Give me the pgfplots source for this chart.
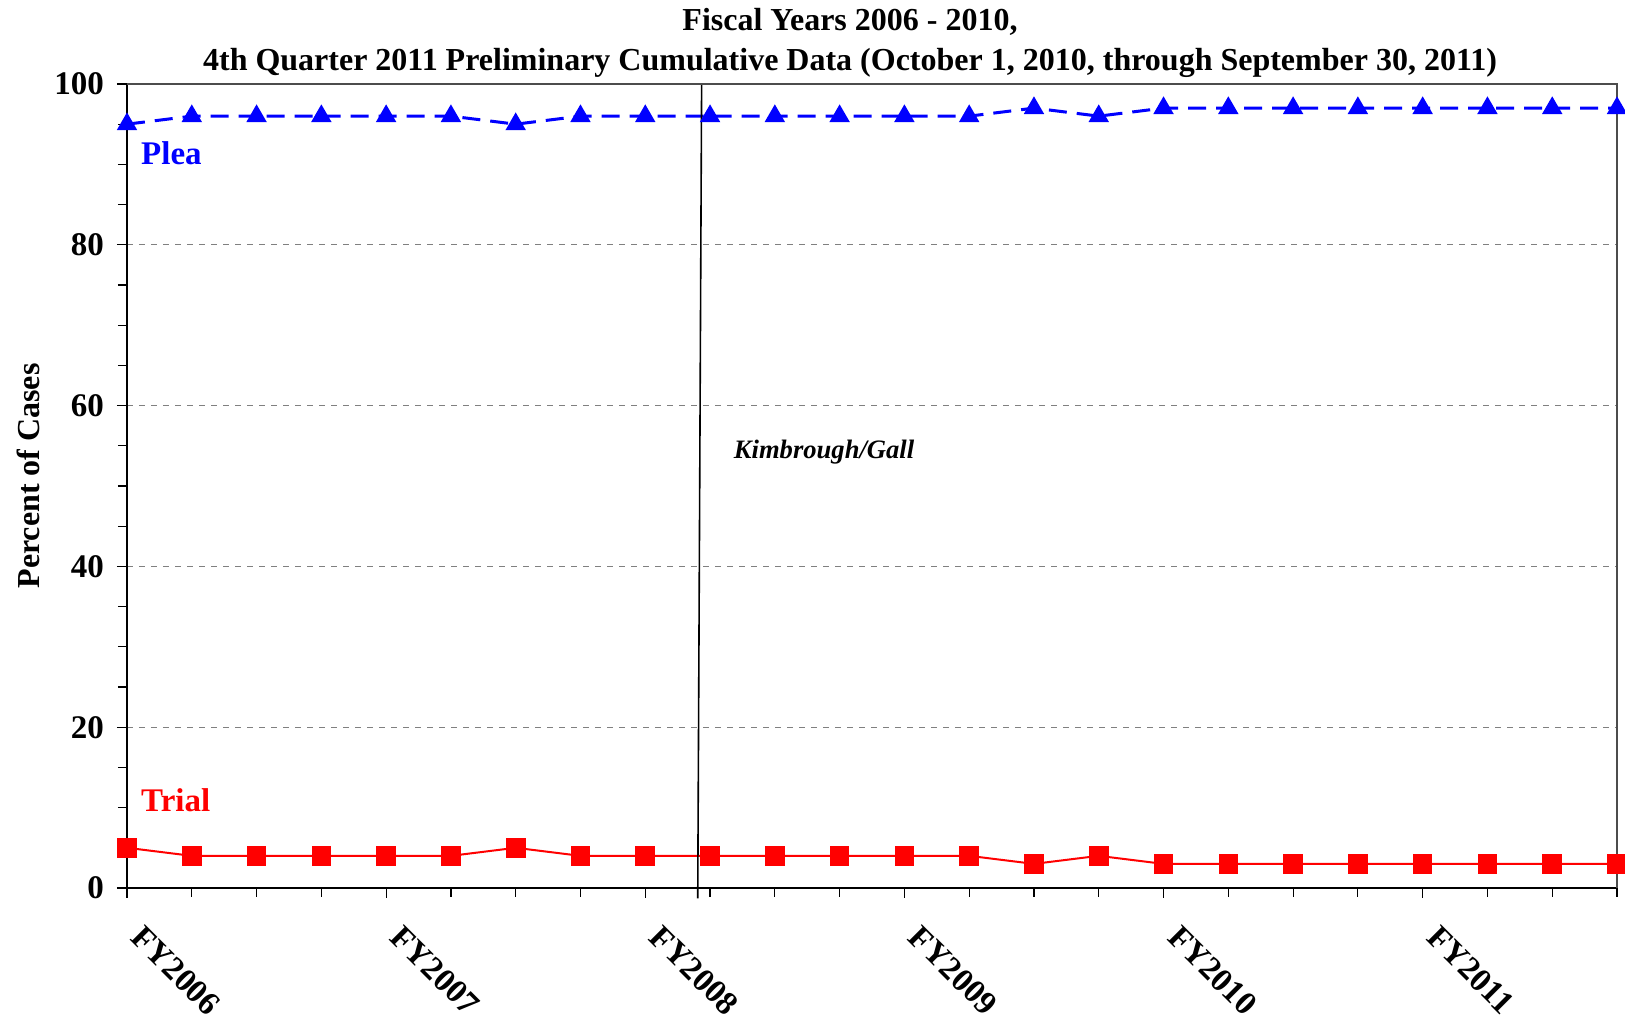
\documentclass[border=0pt]{standalone}
\usepackage{fontspec}
\setmainfont{Liberation Serif}
\usepackage{pgfplots}
\usepackage{pgfplotstable}
\pgfplotsset{compat=1.18}

\pgfplotstableread{
x plea trial
0 95 5
1 96 4
2 96 4
3 96 4
4 96 4
5 96 4
6 95 5
7 96 4
8 96 4
9 96 4
10 96 4
11 96 4
12 96 4
13 96 4
14 97 3
15 96 4
16 97 3
17 97 3
18 97 3
19 97 3
20 97 3
21 97 3
22 97 3
23 97 3
}\datatable

\definecolor{pleablue}{RGB}{0,0,255}
\definecolor{trialred}{RGB}{255,0,0}

\begin{document}
\begin{tikzpicture}
\begin{axis}[
  width=745pt, height=402pt, scale only axis,
  xmin=0, xmax=23, ymin=0, ymax=100,
  clip=false,
  axis x line*=bottom, axis y line*=left,
  axis line style={black, line width=0.6pt},
  ytick={0,20,...,100},
  minor ytick={5,10,15,25,30,35,45,50,55,65,70,75,85,90,95},
  xtick={0,4,8,12,16,20},
  xticklabels={FY2006,FY2007,FY2008,FY2009,FY2010,FY2011},
  minor xtick={0,1,...,23},
  tick align=outside,
  major tick length=5pt, minor tick length=4.5pt,
  every tick/.style={black, line width=0.6pt},
  ymajorgrids,
  grid style={gray, line width=0.5pt, dash pattern=on 3pt off 3pt},
  /pgf/number format/assume math mode=true,
  yticklabel style={font=\bfseries\fontsize{16.5}{16.5}\selectfont, xshift=-3pt},
  xticklabel style={font=\bfseries\fontsize{16.5}{16.5}\selectfont, xshift=9pt, yshift=-8pt, rotate=-45, anchor=north west},
]
\addplot[pleablue, line width=1.5pt, dash pattern=on 9pt off 5pt, mark=triangle*, mark size=4.4pt, mark options={solid}] table[x=x, y=plea] {\datatable};
\addplot[trialred, line width=1pt, mark=square*, mark size=4.4pt, mark options={solid}] table[x=x, y=trial] {\datatable};
\addplot[black, line width=0.8pt, mark=none] coordinates {(8.87,100) (8.81,-1.3)};
\draw[gray!60!black, line width=0.6pt] (rel axis cs:0,1) -- (rel axis cs:1,1) -- (rel axis cs:1,0);
\node[anchor=west, text=pleablue, font=\bfseries\fontsize{16.5}{16.5}\selectfont] at (axis cs:0.11,91.4) {Plea};
\node[anchor=west, text=trialred, font=\bfseries\fontsize{16.5}{16.5}\selectfont] at (axis cs:0.11,10.9) {Trial};
\node[font=\bfseries\itshape\fontsize{13.3}{13.3}\selectfont] at (axis cs:10.76,54.2) {Kimbrough/Gall};
\end{axis}
\node[rotate=90, font=\bfseries\fontsize{16}{16}\selectfont] at (-49.5pt,206pt) {Percent of Cases};
\node[align=center, font=\bfseries\fontsize{16}{19.7}\selectfont] at (361.5pt,422.5pt) {Fiscal Years 2006 - 2010,\\4th Quarter 2011 Preliminary Cumulative Data (October 1, 2010, through September 30, 2011)};
\pgfresetboundingbox
\path[use as bounding box] (-63.5pt,-66.5pt) rectangle (749pt,444pt);
\end{tikzpicture}
\end{document}
